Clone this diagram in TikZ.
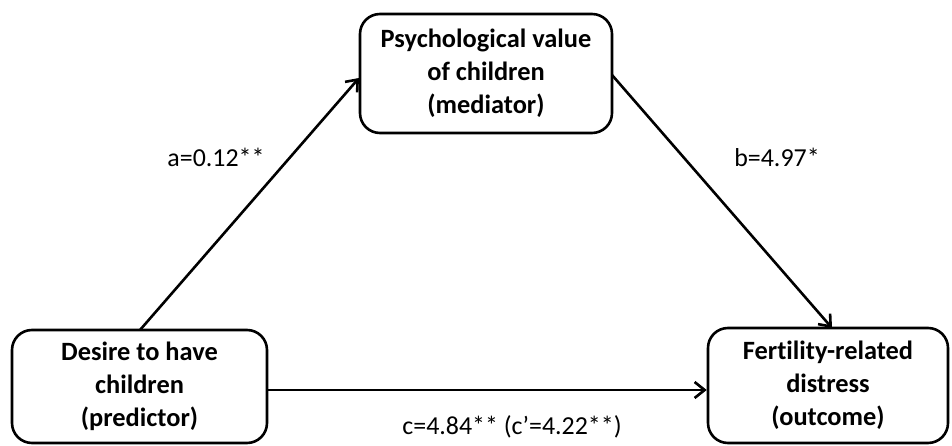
\documentclass[tikz,border=0pt]{standalone}
\usepackage{fontspec}
\setmainfont{Carlito}[Ligatures=NoCommon]
\usetikzlibrary{arrows.meta}
\begin{document}
\begin{tikzpicture}[x=1bp,y=-1bp,
  varbox/.style={draw=black, line width=2.6bp, rounded corners=20bp, align=center,
    inner sep=0pt, font=\fontsize{26.5}{33}\selectfont\bfseries},
  path/.style={draw=black, line width=2.6bp, -{Straight Barb[length=10bp,width=16bp,line width=2.6bp]}},
  coef/.style={font=\fontsize{26}{30}\selectfont, inner sep=0pt}
]
\useasboundingbox (0,0) rectangle (952,446);

\node[varbox, minimum width=252bp, minimum height=119bp] (med) at (486,73.5)
  {Psychological value\\of children\\(mediator)};
\node[varbox, minimum width=255bp, minimum height=113bp] (pred) at (139.5,386.5)
  {Desire to have\\children\\(predictor)};
\node[varbox, minimum width=240bp, minimum height=115bp] (out) at (828,385.5)
  {Fertility-related\\distress\\(outcome)};

\coordinate (aStart) at (140,330);
\coordinate (aEnd) at (359,78);
\coordinate (bStart) at (612,75);
\coordinate (bEnd) at (832,328);

\draw[path] (aStart) -- (aEnd);
\draw[path] (bStart) -- (bEnd);
\draw[path] (pred.east |- 0,390) -- (out.west |- 0,390);

\node[coef] (la) at (216,157) {a=0.12**};
\node[coef] (lb) at (777,157) {b=4.97*};
\node[coef] (lc) at (512,427) {c=4.84** (c’=4.22**)};
\end{tikzpicture}
\end{document}
